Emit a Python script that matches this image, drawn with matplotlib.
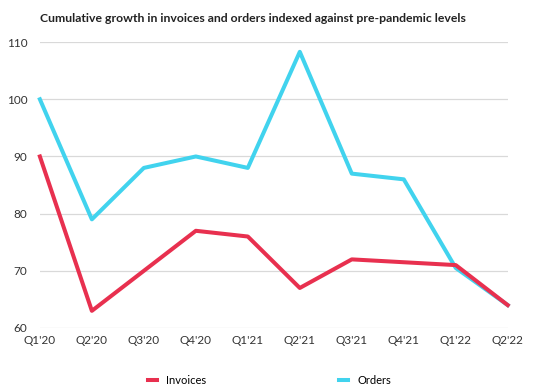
import numpy as np
import matplotlib
matplotlib.use("Agg")
import matplotlib.pyplot as plt

quarters = ["Q1'20", "Q2'20", "Q3'20", "Q4'20", "Q1'21",
            "Q2'21", "Q3'21", "Q4'21", "Q1'22", "Q2'22"]
invoices = [90, 63, 70, 77, 76, 67, 72, 71.5, 71, 64]
orders = [100, 79, 88, 90, 88, 108.3, 87, 86, 70.5, 64]

red = "#E8304F"
cyan = "#41D3EE"

plt.rcParams["font.family"] = ["Lato", "DejaVu Sans"]

fig = plt.figure(figsize=(5.39, 3.9), dpi=100)
ax = fig.add_axes([0.074, 0.159, 0.868, 0.733])

x = np.arange(len(quarters))
ax.plot(x, orders, color=cyan, lw=2.9, label="Orders", zorder=3, clip_on=False)
ax.plot(x, invoices, color=red, lw=2.9, label="Invoices", zorder=4, clip_on=False)

ax.set_xlim(0, len(quarters) - 1)
ax.set_ylim(60, 110)
ax.set_yticks([60, 70, 80, 90, 100, 110])
ax.set_xticks(x)
ax.set_xticklabels(quarters)
ax.grid(axis="y", color="#d9d9d9", lw=0.9)
ax.set_axisbelow(True)
for s in ax.spines.values():
    s.set_visible(False)
ax.tick_params(axis="both", length=0, labelsize=8.5, colors="#333333")
ax.tick_params(axis="y", pad=9)
ax.tick_params(axis="x", pad=5)
for lbl in ax.get_yticklabels():
    lbl.set_verticalalignment("center_baseline")

fig.text(0.074, 0.952, "Cumulative growth in invoices and orders indexed against pre-pandemic levels",
         fontsize=8.8, fontweight="bold", color="#222222", va="center")

handles, labels = ax.get_legend_handles_labels()
fig.legend(handles[::-1], labels[::-1], loc="lower center", bbox_to_anchor=(0.5, -0.015),
           ncol=2, frameon=False, fontsize=8, columnspacing=12, handlelength=0.8,
           handletextpad=0.8)

fig.savefig("out.png", dpi=100)
